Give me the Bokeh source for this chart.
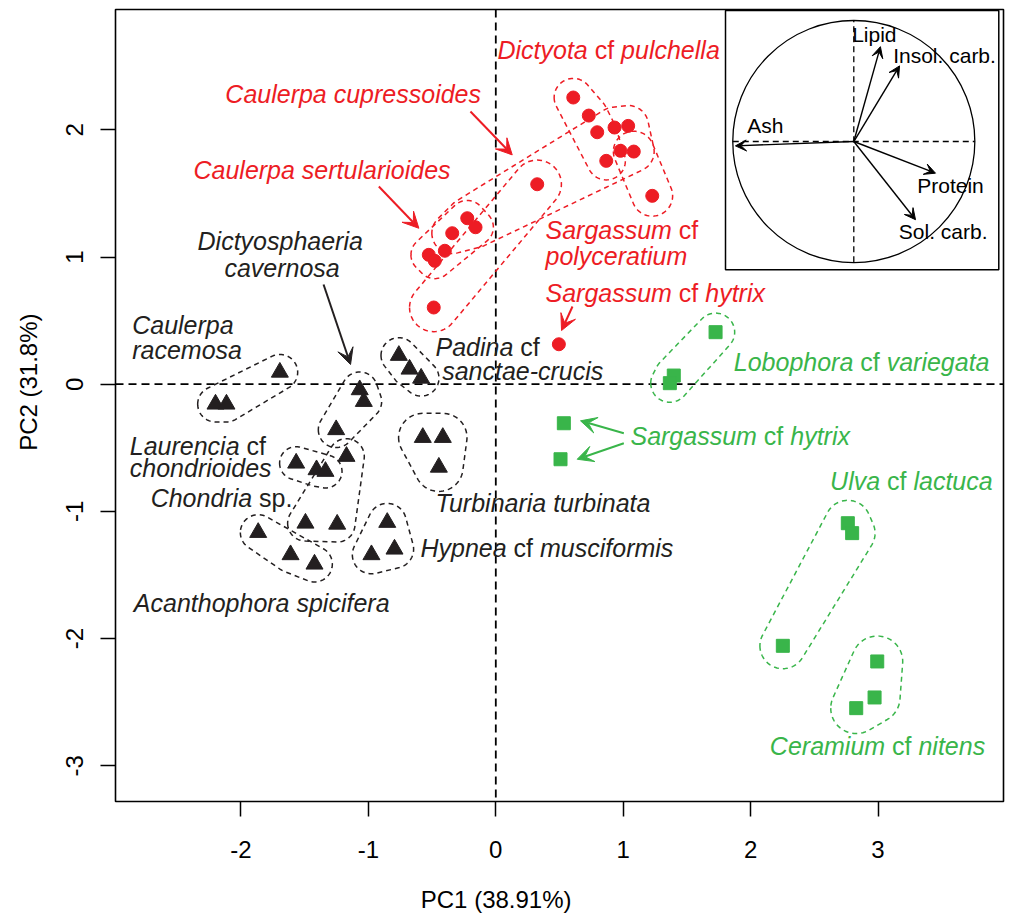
import numpy as np
from bokeh.plotting import figure
from bokeh.models import Span, Arrow, VeeHead, Range1d, FixedTicker, ColumnDataSource
from bokeh.core.properties import value
from bokeh.embed import file_html
from bokeh.resources import INLINE

RED = "#ED1C24"
GREEN = "#39B54A"
BLACK = "#231F20"
FONT = "Liberation Sans"
NBSP = "\u00a0"

# ---------------- data (PC1, PC2 scores) ----------------
red_x = [0.608, 0.730, 0.796, 0.932, 1.039, 0.979, 1.083, 0.867, 1.228, 0.325,
         -0.224, -0.159, -0.342, -0.400, -0.526, -0.479, -0.487, 0.495]
red_y = [2.254, 2.112, 1.981, 2.018, 2.031, 1.835, 1.829, 1.756, 1.481, 1.572,
         1.305, 1.234, 1.187, 1.049, 1.017, 0.970, 0.603, 0.314]

black_x = [-1.695, -2.200, -2.114, -1.068, -1.036, -1.253, -1.172, -1.567, -1.407, -1.337,
           -1.494, -1.245, -1.865, -1.611, -1.423, -0.852, -0.976, -0.795,
           -0.761, -0.677, -0.586, -0.573, -0.416, -0.447]
black_y = [0.094, -0.157, -0.157, -0.044, -0.136, -0.358, -0.568, -0.621, -0.673, -0.686,
           -1.093, -1.101, -1.166, -1.341, -1.415, -1.087, -1.341, -1.297,
           0.226, 0.118, 0.047, -0.419, -0.419, -0.653]

green_x = [1.725, 1.397, 1.366, 0.534, 0.508, 2.763, 2.797, 2.253, 2.994, 2.973, 2.829]
green_y = [0.409, 0.068, 0.008, -0.307, -0.590, -1.093, -1.171, -2.057, -2.180, -2.463, -2.547]

# group memberships (indices) for the dashed envelopes
red_groups = [[0, 1, 2, 7], [10, 11, 12, 3, 4, 5, 6], [6, 8], [10, 11, 12, 13, 14, 15], [9, 16]]
black_groups = [[0, 1, 2], [3, 4, 5], [6, 10, 11], [7, 8, 9], [12, 13, 14], [15, 16, 17],
                [18, 19, 20], [21, 22, 23]]
green_groups = [[0, 1, 2], [5, 6, 7], [8, 9, 10]]

# variable loadings (correlation circle)
load_names = ["Lipid", "Insol. carb.", "Ash", "Protein", "Sol. carb."]
load_x = [0.220, 0.378, -0.978, 0.675, 0.510]
load_y = [0.785, 0.626, -0.036, -0.262, -0.647]

x_ticks = [-2, -1, 0, 1, 2, 3]
y_ticks = [-3, -2, -1, 0, 1, 2]

# ---------------- helpers ----------------
def rounded_hull(xs, ys, pad, n=72):
    t = np.linspace(0, 2 * np.pi, n, endpoint=False)
    px = (np.asarray(xs)[:, None] + pad * np.cos(t)[None, :]).ravel()
    py = (np.asarray(ys)[:, None] + pad * np.sin(t)[None, :]).ravel()
    pts = sorted(set(zip(np.round(px, 6), np.round(py, 6))))

    def cross(o, a, b):
        return (a[0] - o[0]) * (b[1] - o[1]) - (a[1] - o[1]) * (b[0] - o[0])
    lower = []
    for q in pts:
        while len(lower) >= 2 and cross(lower[-2], lower[-1], q) <= 0:
            lower.pop()
        lower.append(q)
    upper = []
    for q in reversed(pts):
        while len(upper) >= 2 and cross(upper[-2], upper[-1], q) <= 0:
            upper.pop()
        upper.append(q)
    hull = lower[:-1] + upper[:-1]
    hull.append(hull[0])
    return [h[0] for h in hull], [h[1] for h in hull]

W = {' ': 278, 'a': 556, 'b': 556, 'c': 500, 'd': 556, 'e': 556, 'f': 278, 'g': 556, 'h': 556,
     'i': 222, 'j': 222, 'k': 500, 'l': 222, 'm': 833, 'n': 556, 'o': 556, 'p': 556, 'q': 556,
     'r': 333, 's': 500, 't': 278, 'u': 556, 'v': 500, 'w': 722, 'x': 500, 'y': 500, 'z': 500,
     'A': 667, 'C': 722, 'D': 722, 'H': 722, 'L': 556, 'P': 667, 'S': 667, 'T': 611, 'U': 722,
     'I': 278, '.': 278, '-': 333}

def tw(s, fs):
    return sum(W.get(c, 556) for c in s) * fs / 1000.0

# ---------------- figure ----------------
p = figure(width=1005, height=918, x_range=Range1d(-2.985, 3.985), y_range=Range1d(-3.281, 2.946),
           output_backend="svg", toolbar_location=None,
           min_border_left=115, min_border_right=2, min_border_top=9, min_border_bottom=117)
p.grid.visible = False
p.outline_line_color = "black"
p.outline_line_width = 1.6
p.background_fill_color = "white"
p.border_fill_color = "white"

for ax, ticks in ((p.xaxis[0], x_ticks), (p.yaxis[0], y_ticks)):
    ax.ticker = FixedTicker(ticks=ticks)
    ax.major_label_overrides = {t: str(t) for t in ticks}
    ax.minor_tick_line_color = None
    ax.major_tick_in = 0
    ax.major_tick_out = 15
    ax.major_tick_line_width = 1.5
    ax.major_tick_line_color = "black"
    ax.axis_line_color = None
    ax.major_label_text_font = FONT
    ax.major_label_text_font_size = "24px"
    ax.major_label_text_color = "black"
    ax.axis_label_text_font = FONT
    ax.axis_label_text_font_size = "24px"
    ax.axis_label_text_font_style = "normal"
    ax.axis_label_text_color = "black"

p.xaxis.major_label_standoff = 24
p.yaxis.major_label_standoff = 17
p.yaxis.major_label_orientation = "vertical"

# axis titles: in the original they are centred on the origin rather than on the frame,
# so pad them with non-breaking spaces to shift their visual centre
p.xaxis.axis_label = "PC1 (38.91%)" + NBSP * 19
p.xaxis.axis_label_standoff = 25
p.yaxis.axis_label = NBSP * 7 + "PC2 (31.8%)"
p.yaxis.axis_label_standoff = 22

# zero lines
p.add_layout(Span(location=0, dimension="height", line_color="black", line_dash="8 5",
                  line_width=1.8, level="underlay"))
p.add_layout(Span(location=0, dimension="width", line_color="black", line_dash="8 5",
                  line_width=1.8, level="underlay"))

# dashed envelopes
for xs, ys, groups, col, pads in ((red_x, red_y, red_groups, RED, [0.15, 0.16, 0.16, 0.14, 0.19]),
                                  (black_x, black_y, black_groups, BLACK,
                                   [0.14, 0.14, 0.14, 0.13, 0.14, 0.15, 0.14, 0.19]),
                                  (green_x, green_y, green_groups, GREEN, [0.15, 0.18, 0.2])):
    for g, pad in zip(groups, pads):
        hx, hy = rounded_hull([xs[i] for i in g], [ys[i] for i in g], pad)
        p.line(hx, hy, line_color=col, line_dash="5 4", line_width=1.5)

# points
p.scatter(red_x, red_y, marker="circle", size=13, fill_color=RED, line_color=RED)
p.scatter(black_x, black_y, marker="triangle", size=17, fill_color=BLACK, line_color=BLACK)
p.scatter(green_x, green_y, marker="square", size=13, fill_color=GREEN, line_color=GREEN)

# species labels: (x, y, colour, [(text, italic), ...])
FS = 25
labels = [
    (0.013, 2.631, RED, [("Dictyota", 1), (" cf ", 0), ("pulchella", 1)]),
    (-2.123, 2.278, RED, [("Caulerpa cupressoides", 1)]),
    (-2.373, 1.688, RED, [("Caulerpa sertularioides", 1)]),
    (-2.341, 1.122, BLACK, [("Dictyosphaeria", 1)]),
    (-2.130, 0.917, BLACK, [("cavernosa", 1)]),
    (-2.854, 0.467, BLACK, [("Caulerpa", 1)]),
    (-2.854, 0.270, BLACK, [("racemosa", 1)]),
    (-2.873, -0.482, BLACK, [("Laurencia", 1), (" cf", 0)]),
    (-2.873, -0.660, BLACK, [("chondrioides", 1)]),
    (-2.709, -0.896, BLACK, [("Chondria", 1), (" sp.", 0)]),
    (-2.841, -1.722, BLACK, [("Acanthophora spicifera", 1)]),
    (-0.473, 0.296, BLACK, [("Padina", 1), (" cf", 0)]),
    (-0.421, 0.105, BLACK, [("sanctae-crucis", 1)]),
    (-0.473, -0.936, BLACK, [("Turbinaria turbinata", 1)]),
    (-0.591, -1.289, BLACK, [("Hypnea", 1), (" cf ", 0), ("musciformis", 1)]),
    (0.390, 1.214, RED, [("Sargassum", 1), (" cf", 0)]),
    (0.390, 1.004, RED, [("polyceratium", 1)]),
    (0.390, 0.715, RED, [("Sargassum", 1), (" cf ", 0), ("hytrix", 1)]),
    (1.057, -0.411, GREEN, [("Sargassum", 1), (" cf ", 0), ("hytrix", 1)]),
    (1.868, 0.178, GREEN, [("Lobophora", 1), (" cf ", 0), ("variegata", 1)]),
    (2.624, -0.765, GREEN, [("Ulva", 1), (" cf ", 0), ("lactuca", 1)]),
    (2.151, -2.848, GREEN, [("Ceramium", 1), (" cf ", 0), ("nitens", 1)]),
]
rows = dict(x=[], y=[], text=[], xo=[], style=[], color=[])
for lx, ly, col, segs in labels:
    off = 0.0
    for s, it in segs:
        lead = s[:len(s) - len(s.lstrip())]
        trail = s[len(s.rstrip()):]
        core = s.strip()
        off += tw(lead, FS)
        rows["x"].append(lx)
        rows["y"].append(ly)
        rows["text"].append(core)
        rows["xo"].append(off)
        rows["style"].append("italic" if it else "normal")
        rows["color"].append(col)
        off += tw(core, FS) + tw(trail, FS)
src = ColumnDataSource(rows)
p.text(x="x", y="y", text="text", x_offset="xo", text_font_style="style", text_color="color",
       source=src, text_font=value(FONT), text_font_size=f"{FS}px",
       text_align="left", text_baseline="middle")

# pointer arrows
arrows = [
    (-0.199, 2.144, 0.129, 1.803, RED),
    (-0.918, 1.554, -0.604, 1.226, RED),
    (-1.352, 0.784, -1.140, 0.155, BLACK),
    (0.602, 0.611, 0.516, 0.422, RED),
    (1.005, -0.385, 0.665, -0.288, GREEN),
    (1.005, -0.464, 0.639, -0.590, GREEN),
]
for x0, y0, x1, y1, col in arrows:
    p.add_layout(Arrow(end=VeeHead(size=16, fill_color=col, line_color=col, line_width=1),
                       x_start=x0, y_start=y0, x_end=x1, y_end=y1,
                       line_color=col, line_width=2))

# ---------------- inset: correlation circle ----------------
ix0, ix1, iy0, iy1 = 1.803, 3.948, 0.899, 2.938
cx, cy, R = 2.810, 1.908, 0.950
p.quad(left=[ix0], right=[ix1], bottom=[iy0], top=[iy1], fill_color="white",
       line_color="black", line_width=1.5)
p.circle(x=[cx], y=[cy], radius=R, fill_color=None, line_color="black", line_width=1.3)
p.segment(x0=[cx - R, cx], y0=[cy, cy - R], x1=[cx + R, cx], y1=[cy, cy + R],
          line_color="black", line_dash="6 4", line_width=1.3)
for lx, ly in zip(load_x, load_y):
    p.add_layout(Arrow(end=VeeHead(size=11, fill_color="black", line_color="black", line_width=1),
                       x_start=cx, y_start=cy, x_end=cx + R * lx, y_end=cy + R * ly,
                       line_color="black", line_width=1.4))
inset_lab_x = [2.797, 3.119, 1.973, 3.308, 3.163]
inset_lab_y = [2.747, 2.582, 2.031, 1.560, 1.200]
p.text(x=inset_lab_x, y=inset_lab_y, text=load_names, text_font=value(FONT),
       text_font_size="21px", text_color="black", text_align="left", text_baseline="middle")

open("out.html", "w").write(file_html(p, INLINE))
